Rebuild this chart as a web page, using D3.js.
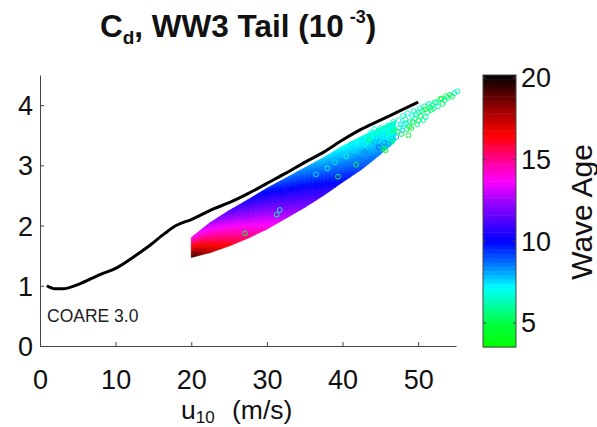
<!DOCTYPE html>
<html><head><meta charset="utf-8">
<script src="https://cdn.jsdelivr.net/npm/d3@7"></script>
<style>body{margin:0;background:#fff}svg{display:block}text{font-family:"Liberation Sans",Arial,Helvetica,sans-serif}</style>
</head><body>
<script>
// COARE 3.0 curve
const lineU  = [0.9, 2, 3, 5, 8, 10, 12.5, 14.5, 16.5, 18, 20, 23, 25, 27.5, 30, 32.5, 35, 37.5, 40, 42.5, 45, 47.5, 50];
const lineCd = [1.00, 0.95, 0.95, 1.02, 1.19, 1.29, 1.49, 1.67, 1.87, 2.0, 2.1, 2.28, 2.38, 2.53, 2.7, 2.87, 3.05, 3.22, 3.42, 3.6, 3.75, 3.9, 4.05];
// dense WW3 band: top/bottom edges and wave age at the edges
const bandU     = [20, 22.5, 25, 27.5, 30, 32.5, 35, 37.5, 40, 42.5, 45, 47];
const bandCdTop = [1.80, 2.05, 2.25, 2.43, 2.62, 2.79, 2.96, 3.13, 3.32, 3.48, 3.63, 3.74];
const bandAgeTop= [13.8, 12.5, 11.3, 10.3, 9.5, 8.8, 8.2, 7.6, 7.1, 6.8, 6.6, 6.5];
const bandCdBot = [1.47, 1.55, 1.66, 1.79, 1.94, 2.12, 2.30, 2.50, 2.72, 2.93, 3.18, 3.40];
const bandAgeBot= [19.5, 17.8, 16.5, 15.3, 14.2, 13.0, 12.0, 11.0, 10.0, 9.3, 8.5, 7.5];
// sparse WW3 points (u10, Cd, wave age)
const scatU   = [44.2, 44.5, 44.8, 45.0, 45.3, 45.5, 45.7, 46.0, 46.2, 46.4, 46.7, 46.9, 47.1, 47.4, 47.5, 47.8, 48.0, 48.1, 48.5, 48.6, 48.9, 49.1, 49.4, 49.6, 49.9, 50.2, 50.3, 50.7, 50.8, 51.2, 51.4, 51.7, 52.2, 52.6, 52.9, 53.5, 54.2, 54.8, 53.7, 53.1, 55.2,
                 39.4, 41.8, 43.6, 45.4, 46.5, 48.7, 27.1, 31.3, 31.7, 36.5, 38.0, 39.0, 40.5, 41.5, 42.2, 43.0, 44.0,
                 47.3, 47.7, 48.3, 48.8, 49.2, 49.7, 50.0, 50.5, 51.0, 51.6, 52.0, 52.4, 53.2, 53.9, 54.5, 47.9, 48.4, 49.3, 50.1, 50.9, 51.8, 46.1, 46.6, 45.2, 44.6, 43.8, 42.6, 41.2, 42.9, 44.3];
const scatCd  = [3.60, 3.45, 3.30, 3.62, 3.50, 3.38, 3.25, 3.66, 3.52, 3.44, 3.72, 3.58, 3.47, 3.75, 3.62, 3.52, 3.82, 3.68, 3.60, 3.86, 3.72, 3.62, 3.90, 3.78, 3.68, 3.95, 3.82, 3.75, 3.98, 3.88, 4.02, 3.92, 4.05, 3.98, 4.10, 4.08, 4.17, 4.20, 4.15, 4.11, 4.23,
                 2.81, 3.01, 3.42, 3.28, 3.39, 3.50, 1.87, 2.18, 2.26, 2.85, 2.95, 3.05, 3.15, 3.25, 3.10, 3.35, 3.48,
                 3.56, 3.68, 3.76, 3.64, 3.82, 3.85, 3.74, 3.90, 3.80, 3.96, 3.94, 4.04, 4.02, 4.12, 4.14, 3.58, 3.70, 3.72, 3.88, 3.93, 4.00, 3.35, 3.55, 3.44, 3.52, 3.55, 3.40, 3.35, 3.22, 3.38];
const scatAge = [7, 8, 9, 6.5, 7.5, 8.5, 5, 7, 6, 7.5, 6.5, 5.5, 8, 7, 6, 5, 6.5, 7.5, 5.5, 7, 6, 4.5, 6.5, 5.5, 6, 7, 5, 6, 6, 5.5, 6.5, 5, 5.5, 6, 5, 6, 5.5, 6.5, 5, 5, 6.5,
                 5, 5, 5, 4.5, 4.5, 4.5, 5, 6, 7, 7.5, 7, 7.5, 7, 7.5, 8.5, 7, 7,
                 5.5, 7, 6, 5, 7, 6.5, 5.5, 6, 6.5, 5.5, 6, 6.5, 5.5, 6, 5, 7.5, 6.5, 5, 6, 5, 6, 8, 6.5, 7.5, 6.5, 7, 7.5, 7.5, 8.5, 8];
// axes
const xTicks = [0, 10, 20, 30, 40, 50];
const yTicks = [0, 1, 2, 3, 4];
const cTicks = [5, 10, 15, 20];
// colormap
const cmapAge   = [3.53, 5, 6, 7.2, 8.5, 10, 11.5, 12.5, 13.7, 15, 16.5, 18, 20.17];
const cmapColor = ["#00ff00", "#00ff40", "#00ff99", "#00ffff", "#0080ff", "#0000ff", "#6000ff", "#a000ff", "#ff00ff", "#ff0090", "#ff0000", "#a00000", "#000000"];

const W = 597, H = 427;
const svg = d3.select("body").append("svg").attr("width", W).attr("height", H);
const x = d3.scaleLinear().domain([0, 55]).range([40, 456]);
const y = d3.scaleLinear().domain([0, 4.5]).range([346, 75]);
const color = d3.scaleLinear().domain(cmapAge).range(cmapColor).clamp(true);
const axisCol = "#444";
const lerp = (a, b, t) => a + (b - a) * t;

// band as a shaded mesh between its edges
const gBand = svg.append("g");
const M = 5, S = 16;
for (let i = 0; i < bandU.length - 1; i++) {
  for (let m = 0; m < M; m++) {
    const f0 = m / M, f1 = (m + 1) / M, fm = (m + 0.5) / M;
    const u0 = lerp(bandU[i], bandU[i+1], f0), u1 = lerp(bandU[i], bandU[i+1], f1);
    const t0 = lerp(bandCdTop[i], bandCdTop[i+1], f0), t1 = lerp(bandCdTop[i], bandCdTop[i+1], f1);
    const b0 = lerp(bandCdBot[i], bandCdBot[i+1], f0), b1 = lerp(bandCdBot[i], bandCdBot[i+1], f1);
    const aT = lerp(bandAgeTop[i], bandAgeTop[i+1], fm), aB = lerp(bandAgeBot[i], bandAgeBot[i+1], fm);
    for (let j = 0; j < S; j++) {
      const s0 = j / S, s1 = (j + 1) / S;
      const pts = [[u0, lerp(t0, b0, s0)], [u1, lerp(t1, b1, s0)], [u1, lerp(t1, b1, s1)], [u0, lerp(t0, b0, s1)]];
      const c = color(lerp(aT, aB, (j + 0.5) / S));
      gBand.append("polygon").attr("points", pts.map(p => x(p[0]) + "," + y(p[1])).join(" "))
        .attr("fill", c).attr("stroke", c).attr("stroke-width", 0.6);
    }
  }
}
// sparse circles
svg.append("g").selectAll("circle").data(scatU.map((u, i) => ({u, cd: scatCd[i], a: scatAge[i]})))
  .join("circle").attr("cx", d => x(d.u)).attr("cy", d => y(d.cd)).attr("r", 2.4)
  .attr("fill", "none").attr("stroke", d => color(d.a)).attr("stroke-width", 1);

// COARE line
svg.append("path").datum(lineU.map((u, i) => [u, lineCd[i]]))
  .attr("d", d3.line().x(d => x(d[0])).y(d => y(d[1])).curve(d3.curveMonotoneX))
  .attr("fill", "none").attr("stroke", "#000").attr("stroke-width", 3);

// axes
const gx = svg.append("g").attr("transform", "translate(0,346)")
  .call(d3.axisBottom(x).tickValues(xTicks).tickFormat(d3.format("d")).tickSize(-4).tickSizeOuter(0));
const gy = svg.append("g").attr("transform", "translate(40,0)")
  .call(d3.axisLeft(y).tickValues(yTicks).tickFormat(d3.format("d")).tickSize(-4).tickSizeOuter(0));
[gx, gy].forEach(g => {
  g.select(".domain").attr("stroke", axisCol);
  g.selectAll(".tick line").attr("stroke", axisCol);
  g.selectAll("text").attr("font-size", 27).attr("fill", "#111").attr("font-family", '"Liberation Sans",Arial,sans-serif');
});
gx.selectAll(".tick text").attr("y", 24).attr("dy", "0.71em");
gy.selectAll(".tick text").attr("x", -7).attr("dy", "0.35em");

// title
const title = svg.append("text").attr("x", 100).attr("y", 37).attr("font-size", 31.5).attr("font-weight", "bold").attr("fill", "#111");
title.append("tspan").text("C");
title.append("tspan").attr("font-size", 19).attr("dy", 7).text("d");
title.append("tspan").attr("dy", -7).text(", WW3 Tail (10");
title.append("tspan").attr("font-size", 18).attr("dy", -14).attr("dx", 6).text("-3");
title.append("tspan").attr("dy", 14).text(")");

// x label
const xl = svg.append("text").attr("x", 181).attr("y", 419).attr("font-size", 26.5).attr("fill", "#111");
xl.append("tspan").text("u");
xl.append("tspan").attr("font-size", 17).attr("dy", 4).text("10");
xl.append("tspan").attr("dy", -4).attr("dx", 10).text(" (m/s)");

// COARE label
svg.append("text").attr("x", 47).attr("y", 322).attr("font-size", 17.5).attr("fill", "#222").text("COARE 3.0");

// colorbar
const cy = d3.scaleLinear().domain([3.53, 20.17]).range([347, 75]);
const nb = 64, dA = (20.17 - 3.53) / nb;
const bands = d3.range(nb).map(i => 3.53 + i * dA);
svg.append("g").selectAll("rect").data(bands).join("rect")
  .attr("x", 483).attr("width", 33).attr("y", d => cy(d + dA)).attr("height", d => cy(d) - cy(d + dA) + 0.5)
  .attr("fill", d => color(d + dA / 2));
svg.append("rect").attr("x", 483).attr("y", 75).attr("width", 33).attr("height", 272)
  .attr("fill", "none").attr("stroke", axisCol).attr("stroke-width", 1);
const gc = svg.append("g").selectAll("g").data(cTicks).join("g");
gc.append("line").attr("x1", 483).attr("x2", 486).attr("y1", d => cy(d)).attr("y2", d => cy(d)).attr("stroke", axisCol);
gc.append("line").attr("x1", 513).attr("x2", 516).attr("y1", d => cy(d)).attr("y2", d => cy(d)).attr("stroke", axisCol);
gc.append("text").attr("x", 521).attr("y", d => cy(d)).attr("dy", "0.35em").attr("font-size", 27).attr("fill", "#111").text(d => d);
svg.append("text").attr("transform", "translate(592,212) rotate(-90)").attr("text-anchor", "middle")
  .attr("font-size", 30).attr("fill", "#111").text("Wave Age");
</script>
</body></html>
